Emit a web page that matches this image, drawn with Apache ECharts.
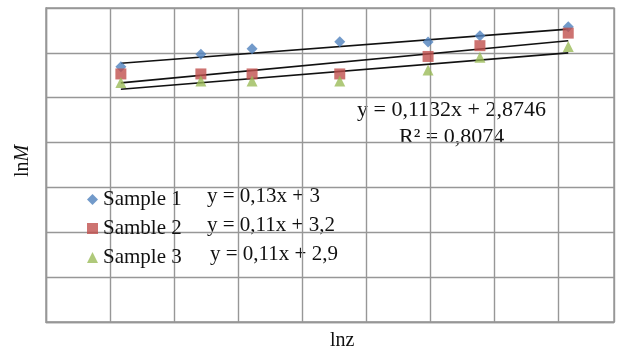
<!DOCTYPE html>
<html>
<head>
<meta charset="utf-8">
<script src="https://cdn.jsdelivr.net/npm/echarts@6/dist/echarts.min.js"></script>
<style>
  html, body { margin: 0; padding: 0; background: #fff; }
  #chart { width: 618px; height: 352px; }
</style>
</head>
<body>
<div id="chart"></div>
<script>
// lnz positions of the measurements (grid units)
var lnz = [1.17, 2.42, 3.22, 4.59, 5.97, 6.78, 8.16];

// lnM values
var sample1 = [5.69, 5.97, 6.09, 6.25, 6.24, 6.38, 6.58];
var sample2 = [5.53, 5.53, 5.53, 5.53, 5.92, 6.16, 6.44];
var sample3 = [5.34, 5.37, 5.37, 5.37, 5.62, 5.90, 6.14];

// trendline end points [x, y]
var trend1 = [[1.17, 5.77], [8.16, 6.53]];
var trend2 = [[1.17, 5.33], [8.16, 6.27]];
var trend3 = [[1.17, 5.19], [8.16, 6.00]];

var names = ["Sample 1", "Samble 2", "Sample 3"];
var equations = ["y = 0,13x + 3", "y = 0,11x + 3,2", "y = 0,11x + 2,9"];

function pairs(xs, ys) {
  return xs.map(function (x, i) { return [x, ys[i]]; });
}

var chart = echarts.init(document.getElementById("chart"));

var serif = "Liberation Serif";
var gridColor = "#979797";

var axisCommon = {
  axisLabel: { show: false },
  axisTick: { show: false },
  axisLine: { show: true, lineStyle: { color: gridColor, width: 1.4 } },
  splitLine: { show: true, lineStyle: { color: gridColor, width: 1.4 } }
};

var trendStyle = {
  type: "line",
  symbol: "none",
  silent: true,
  lineStyle: { color: "#111", width: 1.6 },
  z: 3
};

var option = {
  animation: false,
  grid: {
    left: 46, top: 8, right: 4, bottom: 30,
    show: true, borderColor: gridColor, borderWidth: 1.4
  },
  xAxis: Object.assign({ type: "value", min: 0, max: 8.875, interval: 1 }, axisCommon),
  yAxis: Object.assign({ type: "value", min: 0, max: 7, interval: 1 }, axisCommon),
  legend: {
    orient: "vertical",
    left: 82,
    top: 184,
    itemGap: 8,
    itemWidth: 11,
    itemHeight: 11,
    textStyle: { fontFamily: serif, fontSize: 21, color: "#111" },
    data: [
      { name: names[0], icon: "diamond" },
      { name: names[1], icon: "rect" },
      { name: names[2], icon: "triangle" }
    ]
  },
  series: [
    {
      name: names[0], type: "scatter", symbol: "diamond", symbolSize: 11,
      itemStyle: { color: "#4f81bd" }, data: pairs(lnz, sample1), z: 4
    },
    {
      name: names[1], type: "scatter", symbol: "rect", symbolSize: 11,
      itemStyle: { color: "#c0504d" }, data: pairs(lnz, sample2), z: 4
    },
    {
      name: names[2], type: "scatter", symbol: "triangle", symbolSize: 11,
      itemStyle: { color: "#9bbb59" }, data: pairs(lnz, sample3), z: 4
    },
    Object.assign({ data: trend1 }, trendStyle),
    Object.assign({ data: trend2 }, trendStyle),
    Object.assign({ data: trend3 }, trendStyle)
  ],
  graphic: [
    {
      type: "text", left: 357, top: 99,
      style: { text: "y = 0,1132x + 2,8746", font: "22px " + serif, fill: "#111" }
    },
    {
      type: "text", left: 399, top: 126,
      style: { text: "R² = 0,8074", font: "22px " + serif, fill: "#111" }
    },
    {
      type: "text", left: 207, top: 186,
      style: { text: equations[0], font: "21px " + serif, fill: "#111" }
    },
    {
      type: "text", left: 207, top: 215,
      style: { text: equations[1], font: "21px " + serif, fill: "#111" }
    },
    {
      type: "text", left: 210, top: 244,
      style: { text: equations[2], font: "21px " + serif, fill: "#111" }
    },
    {
      type: "text", left: 330, top: 331,
      style: { text: "lnz", font: "20px " + serif, fill: "#111" }
    },
    {
      type: "text", x: 13, y: 177, rotation: Math.PI / 2,
      style: {
        text: "ln{i|M}", font: "20px " + serif, fill: "#111",
        rich: { i: { fontStyle: "italic", fontFamily: serif, fontSize: 20 } }
      }
    }
  ]
};

chart.setOption(option);
</script>
</body>
</html>
